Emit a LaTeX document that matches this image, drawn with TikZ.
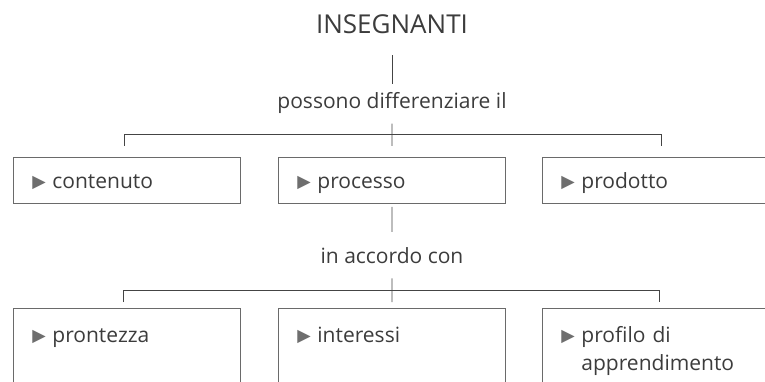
\documentclass[tikz,border=0pt]{standalone}
\usepackage{fontspec}
\setmainfont{Open Sans}
\newfontfamily\symfont{DejaVu Sans}
\definecolor{ink}{HTML}{3C3C3C}
\definecolor{rule}{HTML}{444444}
\definecolor{frame}{HTML}{6A6A6A}
\definecolor{mark}{HTML}{6E6E6E}
\newcommand{\bodyfont}{\fontsize{21}{28}\selectfont}
\newcommand{\pitem}[1]{\makebox[20pt][l]{\symfont\fontsize{17.5}{17.5}\selectfont\color{mark}\raisebox{0.5pt}{▶}}\parbox[t]{165pt}{#1}}

\begin{document}
\begin{tikzpicture}[
    x=1pt, y=-1pt,
    title/.style={font=\fontsize{26}{30}\selectfont, text=ink, inner sep=0pt, anchor=base},
    verb/.style={font=\bodyfont, text=ink, inner sep=0pt, anchor=base},
    box/.style={draw=frame, line width=0.8pt, anchor=north west, font=\bodyfont, text=ink,
        text width=189pt, inner xsep=19pt, inner ysep=0pt, align=left,
        minimum height=46pt, text height=18pt, text depth=2pt},
    lowbox/.style={box, minimum height=0pt, inner ysep=16pt, text depth=100pt},
    link/.style={draw=rule, line width=0.8pt},
]
\useasboundingbox (0,0) rectangle (765,382);
\clip (0,0) rectangle (765,382);
% ----- top level
\node[title] (ins) at (392,34) {INSEGNANTI};
\node[verb] (diff) at (392,108.5) {possono differenziare il};
\draw[link, shorten <=21pt, shorten >=8pt] (ins) -- (diff);
% ----- first row: what can be differentiated
\node[box] (cont) at (13,157) {\pitem{contenuto}};
\node[box] (proc) at (278,157) {\pitem{processo}};
\node[box] (prod) at (542,157) {\pitem{prodotto}};
\draw[link, shorten <=10pt, shorten >=11pt] (diff) -- (proc);
\draw[link] ([xshift=-2.5pt, yshift=11pt]cont.north) -- ([xshift=-2.5pt, yshift=23pt]cont.north)
    -| ([xshift=5.5pt, yshift=11pt]prod.north);
% ----- second row: according to
\node[verb] (acc) at (392,263) {in accordo con};
\draw[link, shorten <=3pt, shorten >=15pt] (proc) -- (acc);
\node[lowbox] (pront) at (13,308) {\pitem{prontezza}};
\node[lowbox] (inter) at (278,308) {\pitem{interessi}};
\node[lowbox] (prof) at (542,308) {\pitem{profilo di\\apprendimento}};
\draw[link, shorten <=15pt, shorten >=6pt] (acc) -- (inter);
\draw[link] ([xshift=-3.5pt, yshift=6pt]pront.north) -- ([xshift=-3.5pt, yshift=18pt]pront.north)
    -| ([xshift=3.5pt, yshift=6pt]prof.north);
\end{tikzpicture}
\end{document}
